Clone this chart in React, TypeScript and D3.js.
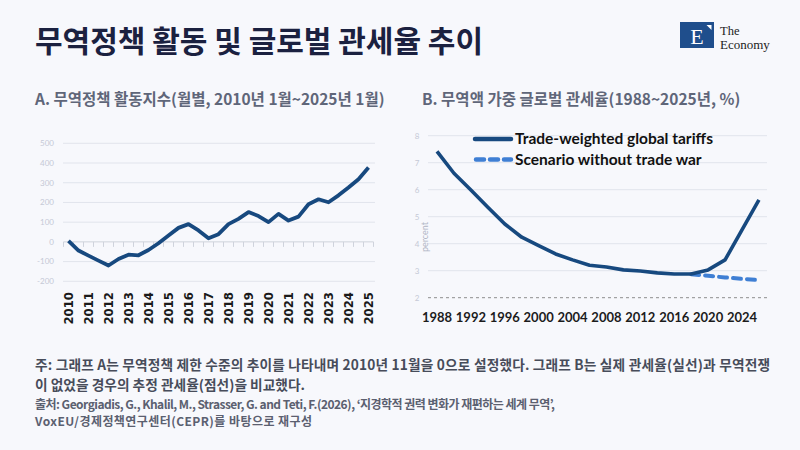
import React from 'react';
import * as d3 from 'd3';

// A. trade policy activity index, half-yearly readings
const periodsA = [
  2010, 2010.5, 2011, 2011.5, 2012, 2012.5, 2013, 2013.5, 2014, 2014.5, 2015, 2015.5,
  2016, 2016.5, 2017, 2017.5, 2018, 2018.5, 2019, 2019.5, 2020, 2020.5, 2021, 2021.5,
  2022, 2022.5, 2023, 2023.5, 2024, 2024.5, 2025,
];
const indexA = [
  5, -44, -70, -95, -120, -87, -65, -68, -41, -7, 32, 71,
  90, 58, 18, 39, 90, 117, 151, 131, 100, 142, 108, 128,
  191, 216, 201, 236, 276, 318, 377,
];
const yearLabelsA = [2010, 2011, 2012, 2013, 2014, 2015, 2016, 2017, 2018, 2019, 2020, 2021, 2022, 2023, 2024, 2025];
const yTicksA = [500, 400, 300, 200, 100, 0, -100, -200];

// B. trade-weighted global tariffs (%)
const yearsB = [1988, 1990, 1992, 1994, 1996, 1998, 2000, 2002, 2004, 2006, 2008, 2010, 2012, 2014, 2016, 2018, 2020, 2022, 2024, 2026];
const tariffB = [7.42, 6.61, 5.99, 5.35, 4.73, 4.24, 3.93, 3.62, 3.4, 3.2, 3.14, 3.03, 2.99, 2.92, 2.88, 2.88, 3.03, 3.4, 4.51, 5.62];
const scenarioYears = [2018, 2020, 2022, 2024, 2026];
const scenarioB = [2.87, 2.81, 2.75, 2.7, 2.65];
const yTicksB = [8, 7, 6, 5, 4, 3, 2];
const xLabelsB = [1988, 1992, 1996, 2000, 2004, 2008, 2012, 2016, 2020, 2024];

const NAVY = '#17497f';
const LIGHT_BLUE = '#3f7fd4';
const GRID = '#e1e4ec';
const KR = '"Noto Sans CJK KR", "Noto Sans", sans-serif';

const App: React.FC = () => {
  // left panel scales
  const xA = d3.scaleLinear().domain([2010, 2025]).range([68.5, 368.5]);
  const yA = d3.scaleLinear().domain([-200, 500]).range([281.3, 143.3]);
  const lineA = d3.line<number>()
    .x((d, i) => xA(periodsA[i]))
    .y((d) => yA(d));
  const tickPosA = periodsA.map((p) => xA(p - 0.25)).concat([xA(2025.25)]);

  // right panel scales
  const xB = d3.scaleLinear().domain([1988, 2024]).range([437, 742]);
  const yB = d3.scaleLinear().domain([2, 8]).range([297.7, 135.7]);
  const lineB = d3.line<number>()
    .x((d, i) => xB(yearsB[i]))
    .y((d) => yB(d));
  const lineScenario = d3.line<number>()
    .x((d, i) => xB(scenarioYears[i]))
    .y((d) => yB(d));

  return (
    <div>
      <style>{'body{margin:0}'}</style>
      <svg width={800} height={450} style={{ display: 'block', background: '#f7f8fc' }}>
        {/* header */}
        <text x={35} y={52} fontFamily={KR} fontSize={30} fontWeight={700} fill="#1b2140">
          무역정책 활동 및 글로벌 관세율 추이
        </text>
        <g>
          <rect x={680} y={22} width={34} height={26} fill="#1f4e8c" />
          <text x={697} y={44} textAnchor="middle" fontFamily='"Liberation Serif", serif' fontSize={22} fill="#fff">E</text>
          <polygon points="706.5,25 711.5,25 711.5,30" fill="#fff" />
          <text x={720} y={35} fontFamily='"Liberation Serif", serif' fontSize={12.5} fill="#222">The</text>
          <text x={720} y={49} fontFamily='"Liberation Serif", serif' fontSize={13} fill="#222">Economy</text>
        </g>

        <text x={35} y={105} fontFamily={KR} fontSize={15.5} fontWeight={700} fill="#5f6679">
          A. 무역정책 활동지수(월별, 2010년 1월~2025년 1월)
        </text>
        <text x={422} y={105} fontFamily={KR} fontSize={15.5} fontWeight={700} fill="#5f6679">
          B. 무역액 가중 글로벌 관세율(1988~2025년, %)
        </text>

        {/* panel A */}
        <g>
          {yTicksA.map((t) => (
            <g key={t}>
              {t !== 0 && (
                <line x1={63} x2={375} y1={yA(t)} y2={yA(t)} stroke={GRID} strokeWidth={1} />
              )}
              <text x={54} y={yA(t)} dy="0.35em" textAnchor="end" fontFamily="Lato, sans-serif" fontSize={8} fill="#c5c9d6">
                {t}
              </text>
            </g>
          ))}
          <line x1={63.5} x2={373.5} y1={yA(0)} y2={yA(0)} stroke="#cfd3dc" strokeWidth={1} />
          {tickPosA.map((x, i) => (
            <line key={i} x1={x} x2={x} y1={yA(0)} y2={yA(0) + 5} stroke="#cfd3dc" strokeWidth={1} />
          ))}
          <path d={lineA(indexA) || ''} fill="none" stroke={NAVY} strokeWidth={3.8} strokeLinejoin="round" />
          {yearLabelsA.map((yr) => (
            <text
              key={yr}
              transform={`translate(${xA(yr)},292) rotate(-90)`}
              textAnchor="end"
              dy="0.36em"
              fontFamily='"DejaVu Sans Condensed", "Liberation Sans Narrow", sans-serif'
              fontWeight={700}
              fontSize={13}
              fill="#1a1a1a"
            >
              {yr}
            </text>
          ))}
        </g>

        {/* panel B */}
        <g>
          {yTicksB.map((t) => (
            <g key={t}>
              {t === 2 ? (
                <line x1={428} x2={767} y1={yB(t)} y2={yB(t)} stroke="#8e8e8e" strokeWidth={1} strokeDasharray="3 3" />
              ) : (
                <line x1={428} x2={767} y1={yB(t)} y2={yB(t)} stroke={GRID} strokeWidth={1} />
              )}
              <text x={417} y={yB(t)} dy="0.35em" textAnchor="middle" fontFamily="Lato, sans-serif" fontSize={8} fill="#c5c9d6">
                {t}
              </text>
            </g>
          ))}
          <text transform="translate(425,237) rotate(-90)" textAnchor="middle" dy="0.35em" fontFamily="Lato, sans-serif" fontSize={9} fill="#b0b5c4">
            percent
          </text>
          <path d={lineScenario(scenarioB) || ''} fill="none" stroke={LIGHT_BLUE} strokeWidth={4} strokeDasharray="8 6" strokeLinecap="round" />
          <path d={lineB(tariffB) || ''} fill="none" stroke={NAVY} strokeWidth={3.6} strokeLinejoin="round" />
          {xLabelsB.map((yr) => (
            <text key={yr} x={xB(yr)} y={322} textAnchor="middle" fontFamily="Lato, sans-serif" fontWeight={700} fontSize={13} fill="#1c1c1c">
              {yr}
            </text>
          ))}

          {/* legend */}
          <line x1={475} x2={511} y1={139} y2={139} stroke={NAVY} strokeWidth={4.5} strokeLinecap="round" />
          <text x={515} y={139} dy="0.35em" fontFamily="Lato, sans-serif" fontWeight={700} fontSize={15.5} fill="#111">
            Trade-weighted global tariffs
          </text>
          <line x1={476} x2={511} y1={159.5} y2={159.5} stroke={LIGHT_BLUE} strokeWidth={4.5} strokeDasharray="8 6" strokeLinecap="round" />
          <text x={515} y={159.5} dy="0.35em" fontFamily="Lato, sans-serif" fontWeight={700} fontSize={15.5} fill="#111">
            Scenario without trade war
          </text>
        </g>

        {/* footer */}
        <g fontFamily={KR} fill="#474c5a">
          <text x={35} y={370} fontSize={13.7} fontWeight={600} textLength={735} lengthAdjust="spacing">
            주: 그래프 A는 무역정책 제한 수준의 추이를 나타내며 2010년 11월을 0으로 설정했다. 그래프 B는 실제 관세율(실선)과 무역전쟁
          </text>
          <text x={35} y={390} fontSize={13.7} fontWeight={600} textLength={270} lengthAdjust="spacing">
            이 없었을 경우의 추정 관세율(점선)을 비교했다.
          </text>
          <text x={35} y={409} fontSize={12} fontWeight={700} fill="#5b6070" textLength={520} lengthAdjust="spacing">
            출처: Georgiadis, G., Khalil, M., Strasser, G. and Teti, F.(2026), ‘지경학적 권력 변화가 재편하는 세계 무역’,
          </text>
          <text x={35} y={426} fontSize={12} fontWeight={700} fill="#5b6070" textLength={277} lengthAdjust="spacing">
            VoxEU/경제정책연구센터(CEPR)를 바탕으로 재구성
          </text>
        </g>
      </svg>
    </div>
  );
};

export default App;
